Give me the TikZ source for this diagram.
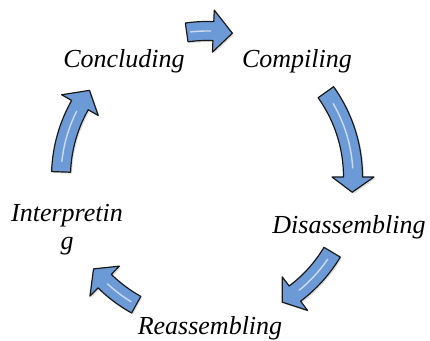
\documentclass[tikz,border=0pt]{standalone}
\usepackage{fontspec}
\setmainfont{Liberation Serif}
\usepackage{tikz}
\usetikzlibrary{shapes,positioning,shadows}

\definecolor{arrowblue}{RGB}{108,154,214}
\tikzset{
  steplabel/.style={font=\fontsize{26}{28}\selectfont\itshape, inner sep=0pt},
  cyclearrow/.style={fill=arrowblue, draw=black!90, line width=1.2pt, line join=round,
    drop shadow={opacity=.25, shadow xshift=1.5pt, shadow yshift=-1.5pt}},
  glint/.style={white, line width=1.4pt, opacity=.65, line cap=round}
}

\begin{document}
\begin{tikzpicture}
        \useasboundingbox (0,0) rectangle (430pt,340pt);

        \node[steplabel, anchor=base] (concluding) at (124pt,272pt) {Concluding};
        \node[steplabel, anchor=base] (compiling) at (297pt,272pt) {Compiling};
        \node[steplabel, anchor=base] (disassembling) at (349pt,107pt) {Disassembling};
        \node[steplabel, anchor=base] (reassembling) at (210pt,6pt) {Reassembling};
        \node[steplabel
        , anchor=north
        , align=center
        ] (interpreting) at (67pt,136pt) {Interpretin\\g};

        % block arrows round the cycle: tail / head base / tip angles
        \begin{scope}[shift={(207pt,163pt)}]
        \foreach \a/\b/\c in {98/87.5/80, 35.5/0/-6, -31/-53/-59, 241/225.5/219, 178/150.5/143.6}
        {
          \path[cyclearrow] (\a:155.5pt) arc[start angle=\a, end angle=\b, radius=155.5pt]
            -- (\b:167pt) -- (\c:146pt) -- (\b:125pt) -- (\b:136.5pt)
            arc[start angle=\b, end angle=\a, radius=136.5pt] -- cycle;
          \draw[glint] ({\a-(\a-\b)*0.15}:146pt) arc[start angle={\a-(\a-\b)*0.15}, end angle={\b+(\a-\b)*0.1}, radius=146pt];
        }
        \end{scope}
    \end{tikzpicture}
\end{document}
